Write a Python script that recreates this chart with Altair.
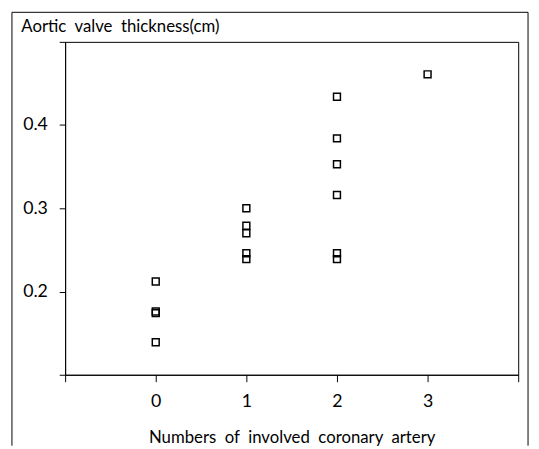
import altair as alt
import pandas as pd

# data
n_vessels = [0, 0, 0, 0,
             1, 1, 1, 1, 1,
             2, 2, 2, 2, 2, 2,
             3]
thickness = [0.212, 0.176, 0.174, 0.139,
             0.300, 0.279, 0.270, 0.246, 0.239,
             0.434, 0.384, 0.353, 0.316, 0.246, 0.239,
             0.461]

x_ticks = [-1, 0, 1, 2, 3, 4]
y_ticks = [0.1, 0.2, 0.3, 0.4, 0.5]

x_title = "Numbers\u00a0 of\u00a0 involved\u00a0 coronary\u00a0 artery"
y_title = "Aortic\u00a0 valve\u00a0 thickness(cm)"

FONT = "Lato"

df = pd.DataFrame({"n": n_vessels, "t": thickness})

points = alt.Chart(df).mark_point(
    shape="square", filled=False, color="black", strokeWidth=1.5, size=49, opacity=1
).encode(
    x=alt.X("n:Q",
            scale=alt.Scale(domain=[-1, 4], nice=False, zero=False),
            axis=alt.Axis(values=x_ticks,
                          labelExpr="datum.value >= 0 && datum.value <= 3 ? datum.label : ''",
                          title=x_title,
                          grid=False, tickSize=7, labelPadding=11,
                          labelFontSize=18, titleFontSize=17,
                          titleBaseline="alphabetic", titleY=69,
                          domainColor="black", tickColor="black",
                          labelColor="black", titleColor="black",
                          titleFontWeight="normal", labelFont=FONT, titleFont=FONT)),
    y=alt.Y("t:Q",
            scale=alt.Scale(domain=[0.1, 0.5], nice=False, zero=False),
            axis=alt.Axis(values=y_ticks,
                          labelExpr="datum.value > 0.15 && datum.value < 0.45 ? format(datum.value, '.1f') : ''",
                          title=y_title,
                          grid=False, tickSize=6, labelPadding=12,
                          labelFontSize=18, titleFontSize=17,
                          titleAngle=0, titleAlign="left", titleBaseline="alphabetic",
                          titleX=-45, titleY=-10,
                          domainColor="black", tickColor="black",
                          labelColor="black", titleColor="black",
                          titleFontWeight="normal", labelFont=FONT, titleFont=FONT)),
)

one = pd.DataFrame({"a": [0]})
frame_left = alt.Chart(one).mark_rule(color="black", strokeWidth=1).encode(
    x=alt.value(-54), y=alt.value(-30), y2=alt.value(410))
frame_right = alt.Chart(one).mark_rule(color="black", strokeWidth=1).encode(
    x=alt.value(470), y=alt.value(-30), y2=alt.value(410))
frame_top = alt.Chart(one).mark_rule(color="black", strokeWidth=1).encode(
    x=alt.value(-54), x2=alt.value(470), y=alt.value(-30))

chart = alt.layer(frame_left, frame_right, frame_top, points).properties(
    width=460, height=338,
    autosize=alt.AutoSizeParams(type="none"),
    padding={"left": 58, "top": 31, "right": 13, "bottom": 72},
    background="white",
).configure_view(stroke="black", strokeWidth=1)

chart.save("out.html", embed_options={"renderer": "svg", "actions": False})
